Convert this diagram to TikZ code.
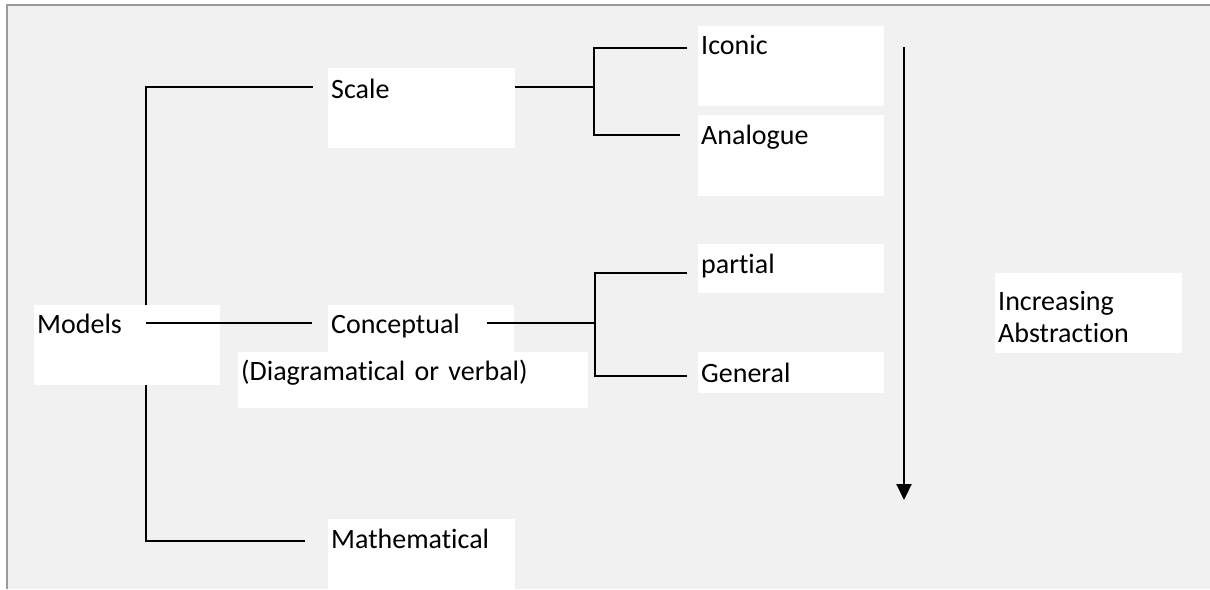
\documentclass[tikz,border=0pt]{standalone}
\usepackage{fontspec}
\setmainfont{Carlito}[Ligatures=NoCommon]
\usetikzlibrary{arrows.meta,backgrounds}
\definecolor{bggray}{HTML}{F1F1F1}
\definecolor{framegray}{HTML}{9A9A9A}

\tikzset{
  box/.style={fill=white, anchor=north west, inner xsep=3pt, inner ysep=0pt,
    align=left, font=\fontsize{28}{32}\selectfont},
  link/.style={black, line width=2pt},
}

\begin{document}
\begin{tikzpicture}[x=1pt,y=-1pt]
    \useasboundingbox (0,0) rectangle (1210,589);
    \begin{scope}[on background layer]
        \fill[white] (0,0) rectangle (1210,589);
        \fill[bggray] (7,5) rectangle (1210,589);
        \draw[framegray,line width=2pt] (7,589) -- (7,5) -- (1210,5);
    \end{scope}

    % white boxes
    \node[box,text width=180pt,text height=28pt,text depth=52pt] (models) at (34,305) {Models};
    \node[box,text width=181pt,text height=30pt,text depth=50pt] (scale) at (328,68) {Scale};
    \node[box,text width=180pt,text height=28pt,text depth=19pt] (concept) at (328,305) {Conceptual};
    \node[box,text width=344pt,text height=28pt,text depth=28pt] (diag) at (238,352) {(Diagramatical or verbal)};
    \node[box,text width=181pt,text height=29pt,text depth=41pt] (math) at (328,519) {Mathematical};
    \node[box,text width=180pt,text height=28pt,text depth=52pt] (iconic) at (698,26) {Iconic};
    \node[box,text width=180pt,text height=29pt,text depth=52pt] (analogue) at (698,115) {Analogue};
    \node[box,text width=180pt,text height=29pt,text depth=20pt] (partial) at (698,244) {partial};
    \node[box,text width=180pt,text height=30pt,text depth=11pt] (general) at (698,352) {General};
    \node[box,text width=181pt,text height=37pt,text depth=43pt] (abstr) at (995,273) {Increasing\\Abstraction};

    \coordinate (trunk) at (146,323);
    \coordinate (fork1) at (594,87);
    \coordinate (fork2) at (595,323);
    \coordinate (arrtop) at (904,47);
    \coordinate (arrbot) at (904,500);

    \begin{scope}[on background layer]
        \draw[link] ([shift={(-15,19)}]scale.north west) -| (trunk) |- ([shift={(-23,22)}]math.north west);
    \end{scope}
    \draw[link] (trunk) -- ([shift={(-16,18)}]concept.north west);

    \draw[link] ([yshift=-19pt]scale.north east) -- (fork1);
    \draw[link] ([shift={(-11,22)}]iconic.north west) -| (fork1) |- ([shift={(-18,20)}]analogue.north west);

    \draw[link] ([shift={(159,18)}]concept.north west) -- (fork2);
    \draw[link] ([shift={(-11,29)}]partial.north west) -| (fork2) |- ([shift={(-11,24)}]general.north west);

    \draw[black,line width=2.2pt,-{Triangle[width=15pt,length=16pt]}] (arrtop) -- (arrbot);
\end{tikzpicture}
\end{document}
